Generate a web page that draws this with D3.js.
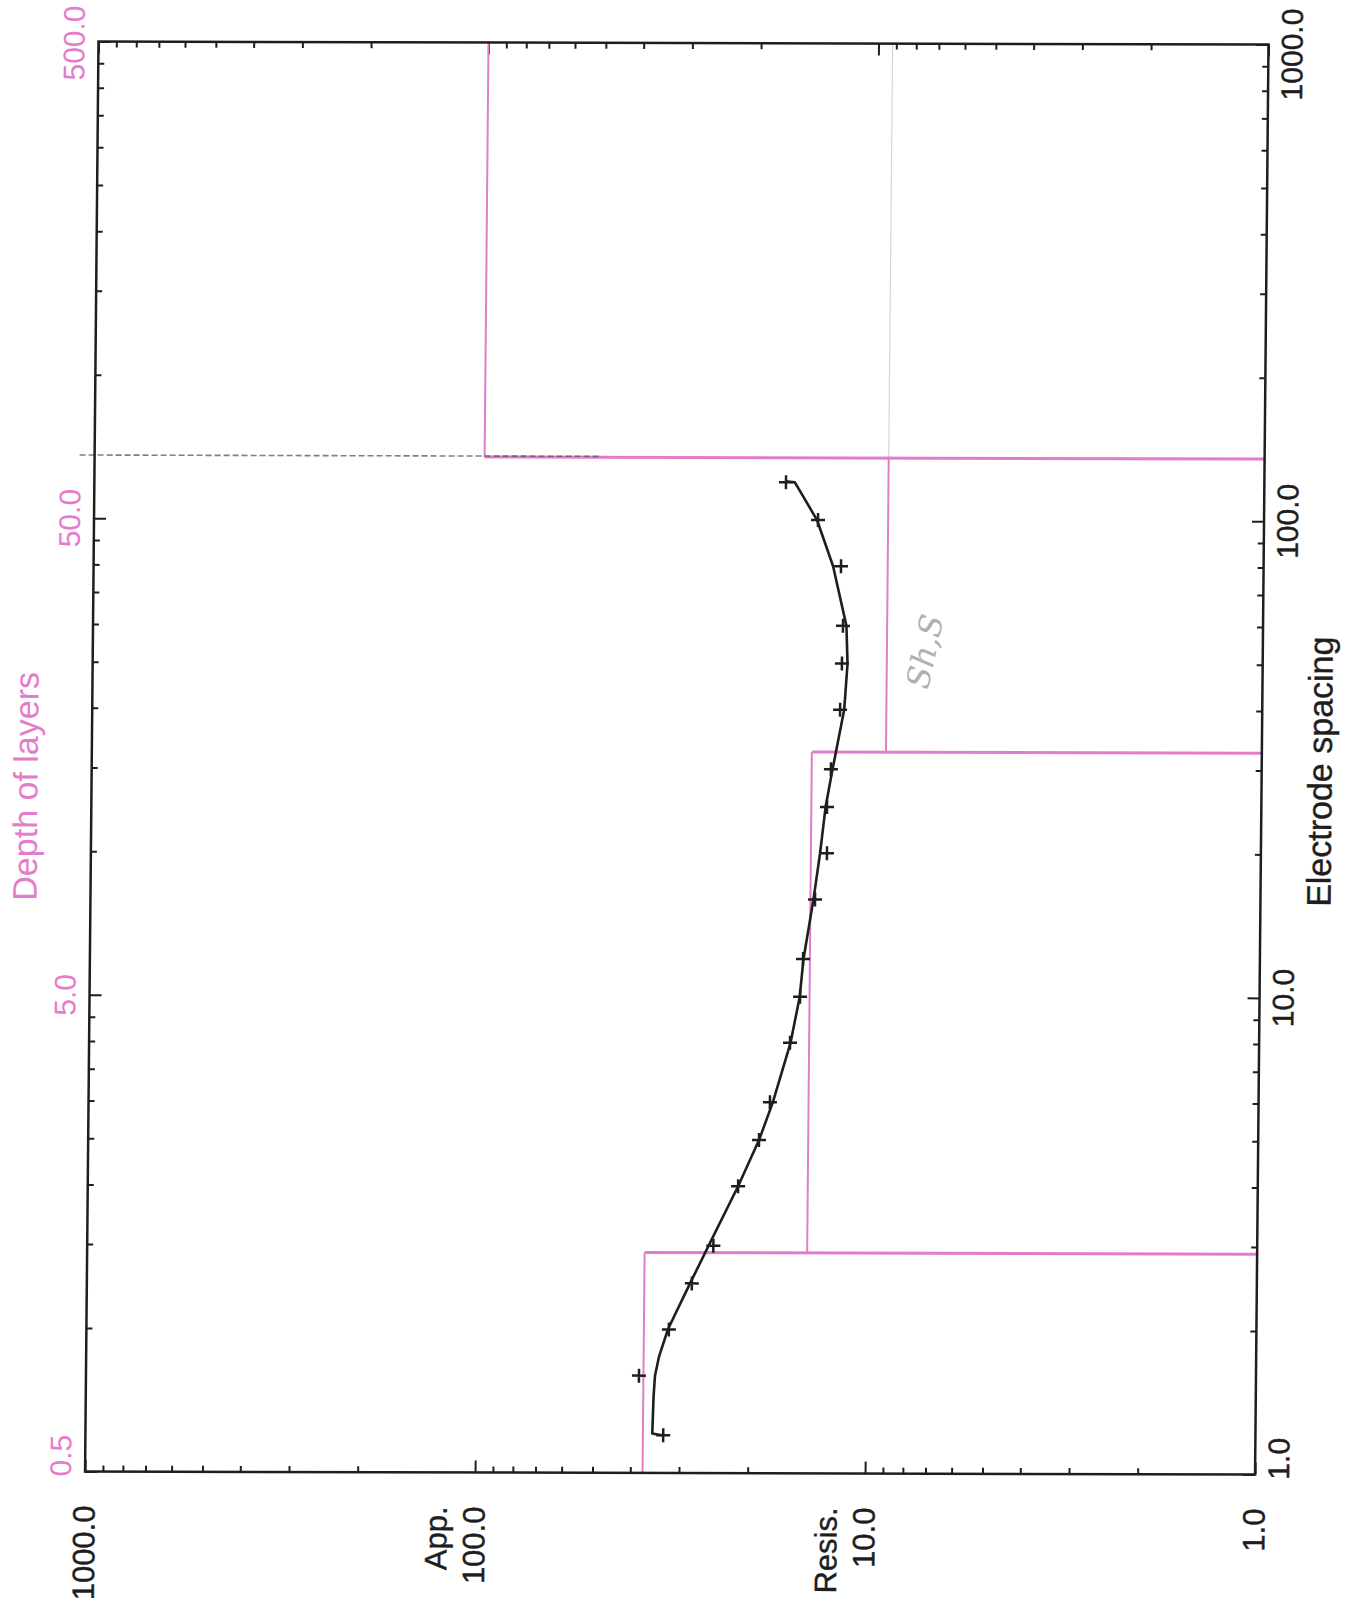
<!DOCTYPE html>
<html>
<head>
<meta charset="utf-8">
<script src="https://cdn.jsdelivr.net/npm/d3@7"></script>
<style>
  body { margin: 0; background: #fff; }
  svg { display: block; background: #fff; }
  text { font-family: "Liberation Sans", Arial, sans-serif; }
</style>
</head>
<body>
<svg id="chart" width="1358" height="1605"></svg>
<script>
// field data: electrode spacing and apparent resistivity
var spacing = [1.2, 1.6, 2, 2.5, 3, 4, 5, 6, 8, 10, 12, 16, 20, 25, 30, 40, 50, 60, 80, 100, 120];
var appRes = [33.0, 38.2, 32.1, 28.1, 24.8, 21.5, 19.05, 17.9, 15.95, 15.07, 14.84, 13.87, 12.96, 12.99,
              12.72, 12.09, 11.99, 11.94, 12.12, 13.92, 16.85];

// calculated curve of the layer model
var curveSpacing = [1.2, 1.21, 1.45, 1.6, 1.75, 2, 2.5, 3, 4, 5, 6, 8, 10, 12, 16, 20, 25, 30,
                    40, 50, 60, 80, 100, 115, 120, 120.5];
var curveRes = [33.3, 35.2, 35.0, 34.75, 34.0, 32.3, 28.4, 25.5, 21.5, 19.05, 17.6, 15.9, 15.1, 14.8,
                14.0, 13.5, 13.1, 12.6, 11.8, 11.6, 11.7, 12.7, 14.0, 15.5, 16.0, 16.9];

// layer model (resistivity of each layer, depth of each boundary)
var layerRes = [37.2, 14.25, 9.2, 100];
var layerDepth = [1.45, 16.3, 67.5];

// tick labels
var resTicks = [1000, 100, 10, 1];
var resTickNames = ["1000.0", "100.0", "10.0", "1.0"];
var resTickPrefix = ["", "App.", "Resis.", ""];
var spacingTicks = [1, 10, 100, 1000];
var spacingTickNames = ["1.0", "10.0", "100.0", "1000.0"];
var depthTicks = [0.5, 5, 50, 500];
var depthTickNames = ["0.5", "5.0", "50.0", "500.0"];

// constants
var width = 1170,
    height = 1430,
    pink = "#e47ccb",
    ink = "#1e1e1e";

var x = d3.scaleLog().domain([1000, 1]).range([0, width]);
var y = d3.scaleLog().domain([1, 1000]).range([height, 0]);
var yDepth = d3.scaleLog().domain([0.5, 500]).range([height, 0]);

var svg = d3.select("#chart");
svg.append("rect").attr("width", 1358).attr("height", 1605).attr("fill", "#fff");

// the scanned sheet is a little skewed
var plot = svg.append("g")
    .attr("transform", "matrix(1, 0.0026, -0.0094, 1, 98.5, 41.5)");

function isDecade(v) {
    var l = Math.log10(v);
    return Math.abs(l - Math.round(l)) < 1e-9;
}

var resMinor = x.ticks().filter(function (v) { return !isDecade(v); });
var spMinor = y.ticks().filter(function (v) { return !isDecade(v); });

// ticks on all four sides, pointing inward
function drawAxis(axis, values, size, tx, ty) {
    var g = plot.append("g")
        .attr("transform", "translate(" + tx + "," + ty + ")")
        .call(axis.tickValues(values).tickSizeInner(-size).tickSizeOuter(0).tickFormat(""));
    g.select(".domain").remove();
    g.selectAll("line").attr("stroke", ink).attr("stroke-width", 2);
}
drawAxis(d3.axisBottom(x), resMinor, 6, 0, height);
drawAxis(d3.axisBottom(x), resTicks, 12, 0, height);
drawAxis(d3.axisTop(x), resMinor, 6, 0, 0);
drawAxis(d3.axisTop(x), resTicks, 12, 0, 0);
drawAxis(d3.axisLeft(y), spMinor, 6, 0, 0);
drawAxis(d3.axisLeft(y), spacingTicks, 12, 0, 0);
drawAxis(d3.axisRight(y), spMinor, 6, width, 0);
drawAxis(d3.axisRight(y), spacingTicks, 12, width, 0);

// faint grey trace of layer 3 above its top
plot.append("line")
    .attr("x1", x(layerRes[2])).attr("x2", x(layerRes[2]))
    .attr("y1", 0).attr("y2", yDepth(layerDepth[2]))
    .attr("stroke", "#bbb").attr("stroke-width", 1.2).attr("opacity", 0.6);

// layer model: vertical part of each layer
var layers = layerRes.map(function (r, i) {
    return {
        r: r,
        top: i == 0 ? 0.5 : layerDepth[i - 1],
        bottom: i == layerRes.length - 1 ? 500 : layerDepth[i]
    };
});
plot.selectAll(".layer")
    .data(layers)
    .enter()
    .append("line")
    .attr("class", "layer")
    .attr("x1", function (d) { return x(d.r); })
    .attr("x2", function (d) { return x(d.r); })
    .attr("y1", function (d) { return yDepth(d.top); })
    .attr("y2", function (d) { return yDepth(d.bottom); })
    .attr("stroke", pink)
    .attr("stroke-width", 2);

// layer boundaries run to the right edge
plot.selectAll(".boundary")
    .data(layerDepth)
    .enter()
    .append("line")
    .attr("class", "boundary")
    .attr("x1", function (d, i) { return x(Math.max(layerRes[i], layerRes[i + 1])); })
    .attr("x2", width)
    .attr("y1", function (d) { return yDepth(d); })
    .attr("y2", function (d) { return yDepth(d); })
    .attr("stroke", pink)
    .attr("stroke-width", 3);

// dotted grey trace of the deepest boundary on the left
plot.append("line")
    .attr("x1", -15).attr("x2", x(50))
    .attr("y1", yDepth(layerDepth[2]) - 1).attr("y2", yDepth(layerDepth[2]) - 1)
    .attr("stroke", "#555").attr("stroke-width", 1.6)
    .attr("stroke-dasharray", "6,3").attr("opacity", 0.75);

// calculated curve
var curve = curveSpacing.map(function (s, i) { return { s: s, r: curveRes[i] }; });
plot.append("path")
    .datum(curve)
    .attr("fill", "none")
    .attr("stroke", ink)
    .attr("stroke-width", 2.6)
    .attr("stroke-linejoin", "round")
    .attr("d", d3.line()
        .x(function (d) { return x(d.r); })
        .y(function (d) { return y(d.s); }));

// field points as crosses
plot.selectAll(".pt")
    .data(spacing)
    .enter()
    .append("path")
    .attr("class", "pt")
    .attr("transform", function (d, i) { return "translate(" + x(appRes[i]) + "," + y(d) + ")"; })
    .attr("d", "M-7,0H7M0,-7V7")
    .attr("stroke", ink)
    .attr("stroke-width", 2.5);

// frame
plot.append("rect")
    .attr("width", width)
    .attr("height", height)
    .attr("fill", "none")
    .attr("stroke", ink)
    .attr("stroke-width", 2.5);

// rotated text helper
function vtext(px, py, str, anchor, size, color) {
    return plot.append("text")
        .attr("transform", "translate(" + px + "," + py + ") rotate(-90)")
        .attr("text-anchor", anchor)
        .style("font-size", size + "px")
        .attr("fill", color)
        .text(str);
}

// resistivity labels below
resTicks.forEach(function (v, i) {
    vtext(x(v) + 10, height + 34, resTickNames[i], "end", 31, ink);
    if (resTickPrefix[i]) {
        vtext(x(v) - 28, height + 34, resTickPrefix[i], "end", 31, ink);
    }
});

// keep end labels inside the axis length
function placeSide(px, values, names, scale, color) {
    values.forEach(function (v, i) {
        var t = vtext(px, scale(v), names[i], "middle", 30, color);
        var half = t.node().getComputedTextLength() / 2;
        var py = Math.max(Math.min(scale(v), height + 5 - half), half - 36);
        t.attr("transform", "translate(" + px + "," + py + ") rotate(-90)");
    });
}
placeSide(width + 34, spacingTicks, spacingTickNames, y, ink);
placeSide(-14, depthTicks, depthTickNames, yDepth, pink);

// axis titles
vtext(-54, 745, "Depth of layers", "middle", 34, pink);
vtext(width + 70, 727, "Electrode spacing", "middle", 34, ink);

plot.selectAll("text").filter(function () { return d3.select(this).attr("fill") == ink; })
    .attr("stroke", ink).attr("stroke-width", 0.4);

// pencil note on the sheet
plot.append("text")
    .attr("transform", "translate(843,610) rotate(-78)")
    .attr("text-anchor", "middle")
    .style("font-size", "32px")
    .style("font-style", "italic")
    .style("font-family", "DejaVu Serif, serif")
    .attr("fill", "#b0b0b0")
    .text("Sh,S");
</script>
</body>
</html>
